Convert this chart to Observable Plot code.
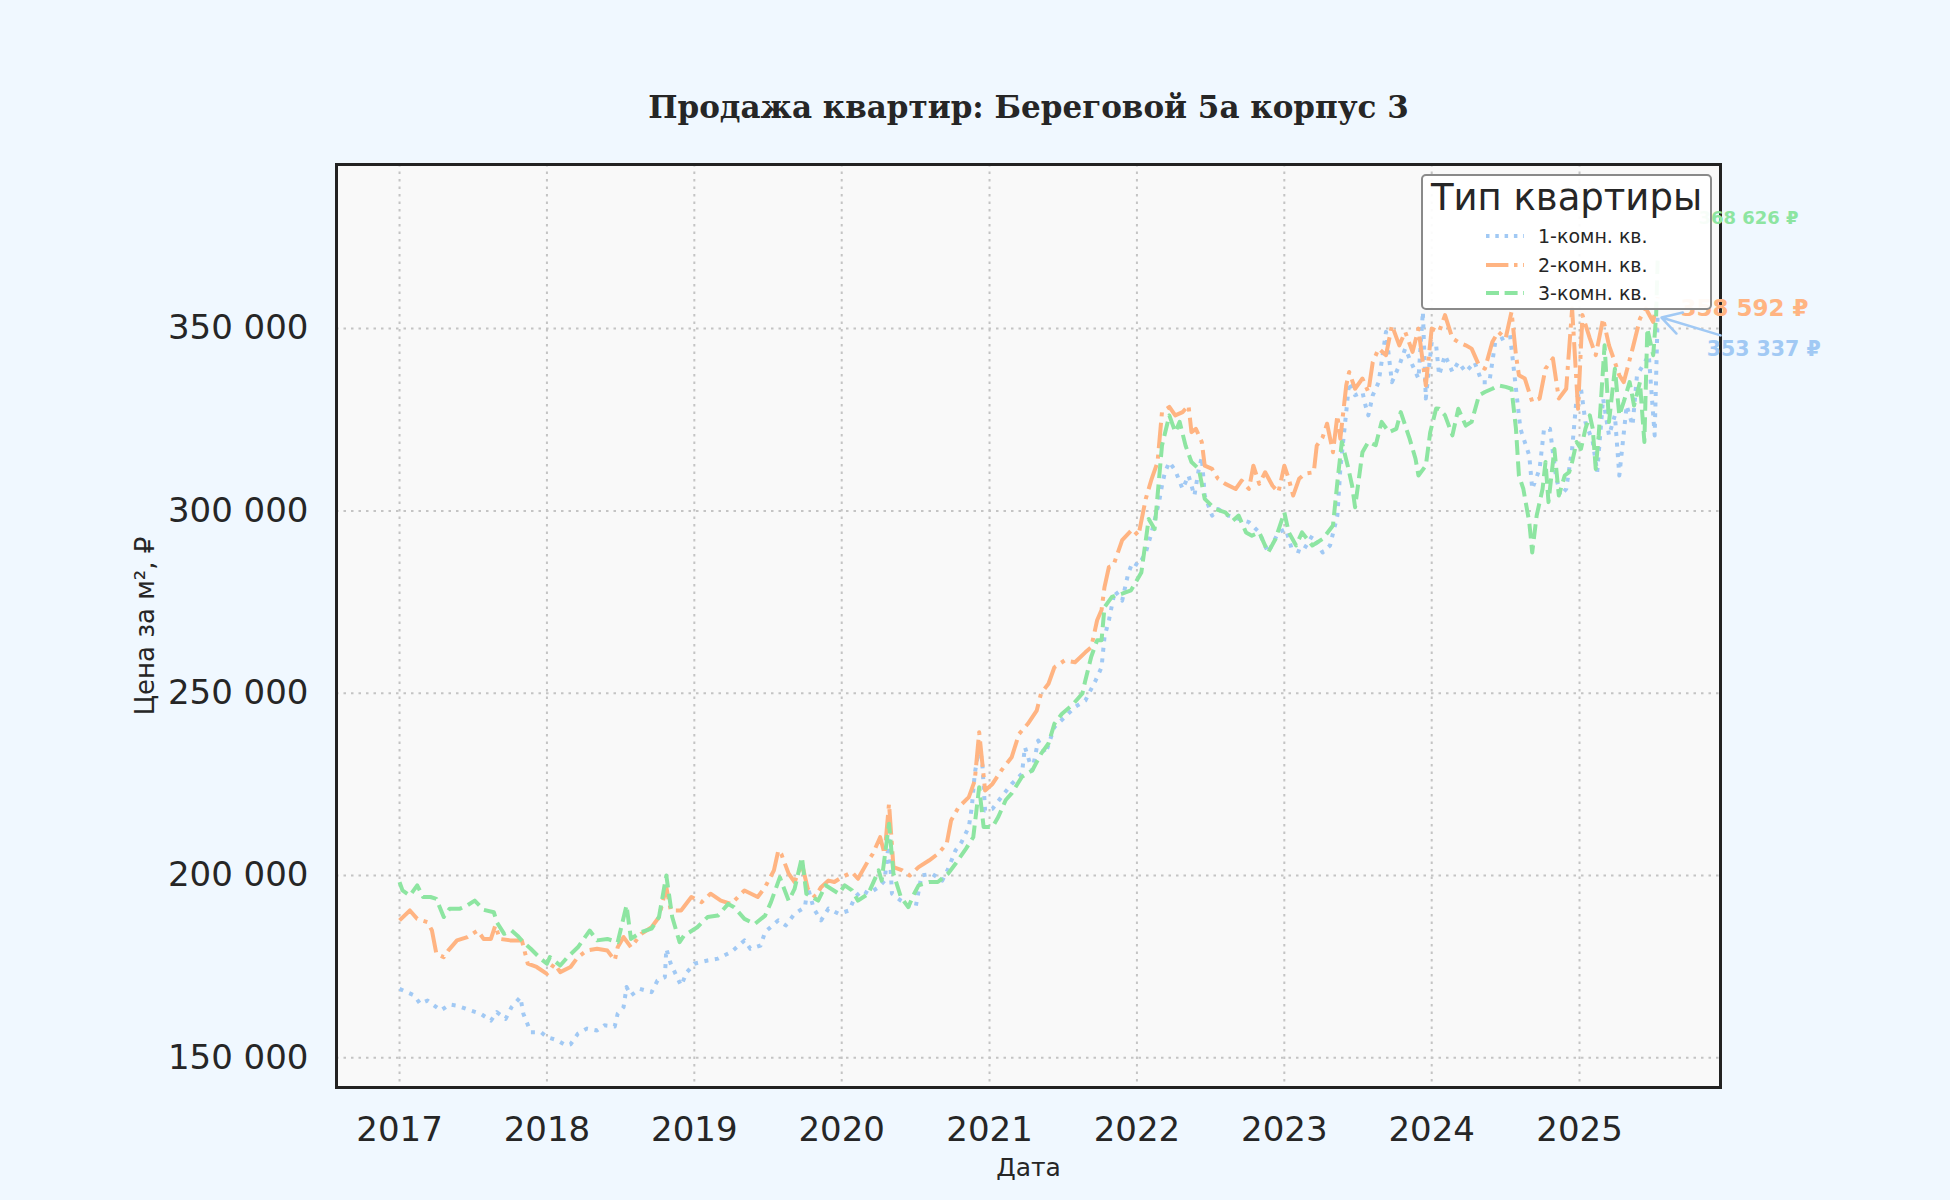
<!DOCTYPE html>
<html><head><meta charset="utf-8">
<script src="https://cdn.jsdelivr.net/npm/d3@7"></script>
<script src="https://cdn.jsdelivr.net/npm/@observablehq/plot@0.6"></script>
<style>
html,body{margin:0;padding:0;background:#f0f8ff;}
#wrap{position:relative;width:1950px;height:1200px;}
#legend{position:absolute;left:1421px;top:174px;width:287px;height:132px;background:rgba(255,255,255,0.93);border:2px solid #8a8a8a;border-radius:5px;font-family:"DejaVu Sans";color:#262626;}
#legend .ttl{position:absolute;left:0;width:100%;text-align:center;font-size:37px;line-height:37px;top:3px;white-space:nowrap;}
#legend .item{position:absolute;left:0;width:100%;height:19px;}
#legend .item svg{position:absolute;left:63px;top:5px;}
#legend .item span{position:absolute;left:115px;top:0;font-size:19px;line-height:19px;white-space:nowrap;}
</style>
</head><body><div id="wrap"></div>
<script>
const title = "Продажа квартир: Береговой 5а корпус 3";
const xLabel = "Дата";
const yLabel = "Цена за м², ₽";
const legendTitle = "Тип квартиры";
const seriesNames = ["1-комн. кв.", "2-комн. кв.", "3-комн. кв."];
const xTickYears = [2017, 2018, 2019, 2020, 2021, 2022, 2023, 2024, 2025];
const yTicks = [150000, 200000, 250000, 300000, 350000];
const yDomain = [141850, 395000];

const oneRoom = [[2017.00,168900],[2017.10,167100],[2017.14,164800],[2017.19,165700],[2017.28,163000],[2017.34,164600],[2017.39,164300],[2017.48,163000],[2017.55,162100],[2017.62,160200],[2017.66,162500],[2017.72,160700],[2017.76,163900],[2017.82,166600],[2017.84,162100],[2017.89,157000],[2017.96,157000],[2018.00,155700],[2018.07,154800],[2018.13,153400],[2018.16,153700],[2018.21,156600],[2018.27,158000],[2018.34,157500],[2018.39,158900],[2018.46,158600],[2018.48,162100],[2018.52,163900],[2018.54,169400],[2018.57,167100],[2018.63,168900],[2018.71,168000],[2018.75,171200],[2018.80,172100],[2018.81,179900],[2018.84,175800],[2018.91,169800],[2018.95,173500],[2019.00,175800],[2019.09,176700],[2019.16,177200],[2019.25,179000],[2019.34,182200],[2019.38,179900],[2019.45,180800],[2019.48,184500],[2019.57,187700],[2019.62,186300],[2019.68,189500],[2019.75,191300],[2019.77,196800],[2019.81,190900],[2019.86,187700],[2019.91,190900],[2019.98,189500],[2020.05,190400],[2020.09,194100],[2020.14,195900],[2020.18,195000],[2020.25,196800],[2020.29,198600],[2020.32,209600],[2020.34,195000],[2020.40,193100],[2020.45,191800],[2020.50,191300],[2020.54,200000],[2020.61,200500],[2020.68,198600],[2020.72,201800],[2020.77,206900],[2020.81,209100],[2020.86,213300],[2020.88,218700],[2020.90,227900],[2020.93,235200],[2020.95,231500],[2020.97,217800],[2021.02,218300],[2021.08,221500],[2021.15,225100],[2021.22,227900],[2021.24,235200],[2021.29,228800],[2021.33,237000],[2021.38,233400],[2021.44,240700],[2021.51,243400],[2021.58,246200],[2021.65,248000],[2021.72,253500],[2021.76,257100],[2021.78,265400],[2021.81,270000],[2021.85,278100],[2021.90,275400],[2021.94,282700],[2021.97,285900],[2022.01,285000],[2022.06,288600],[2022.10,294100],[2022.15,302400],[2022.17,307000],[2022.19,310600],[2022.22,313400],[2022.26,311100],[2022.31,306000],[2022.35,309700],[2022.39,304200],[2022.42,311500],[2022.44,314700],[2022.46,304200],[2022.51,298700],[2022.55,300500],[2022.62,298700],[2022.69,297800],[2022.76,296900],[2022.83,294100],[2022.89,288600],[2022.96,294100],[2023.01,295000],[2023.05,289600],[2023.12,288600],[2023.19,293200],[2023.26,288600],[2023.31,290500],[2023.36,298700],[2023.38,311500],[2023.42,327100],[2023.44,335300],[2023.48,331700],[2023.53,332600],[2023.55,329000],[2023.57,326200],[2023.60,331700],[2023.64,335300],[2023.69,349100],[2023.73,335300],[2023.78,339900],[2023.82,344500],[2023.87,339900],[2023.91,336300],[2023.94,354600],[2023.96,330800],[2024.00,346300],[2024.03,345400],[2024.05,337200],[2024.09,342700],[2024.14,338100],[2024.18,340800],[2024.23,338100],[2024.29,340800],[2024.34,335300],[2024.39,335300],[2024.43,346300],[2024.48,347300],[2024.53,348200],[2024.57,333500],[2024.60,322500],[2024.66,315200],[2024.68,306000],[2024.73,311500],[2024.76,322500],[2024.80,322500],[2024.84,309700],[2024.87,304200],[2024.91,306000],[2024.95,317000],[2024.98,330800],[2025.01,333500],[2025.04,324400],[2025.09,318900],[2025.12,310600],[2025.16,330800],[2025.20,320700],[2025.24,326200],[2025.27,309700],[2025.32,328900],[2025.36,323400],[2025.39,337200],[2025.43,339900],[2025.47,342700],[2025.51,320700],[2025.53,353337]];

const twoRoom = [[2017.00,187700],[2017.07,190400],[2017.12,188100],[2017.19,187200],[2017.22,184900],[2017.25,178500],[2017.30,177600],[2017.33,179400],[2017.39,182200],[2017.46,183100],[2017.53,184900],[2017.57,182600],[2017.62,182600],[2017.65,186300],[2017.68,182600],[2017.75,182200],[2017.83,182200],[2017.87,175800],[2017.93,174900],[2018.00,173000],[2018.05,175800],[2018.09,173500],[2018.16,174900],[2018.21,177600],[2018.27,179400],[2018.34,179900],[2018.41,179400],[2018.46,176700],[2018.48,180300],[2018.52,183100],[2018.57,180300],[2018.64,184000],[2018.71,185800],[2018.76,188600],[2018.81,196800],[2018.84,190400],[2018.91,190400],[2018.98,194100],[2019.05,192700],[2019.11,195000],[2019.18,193100],[2019.25,192200],[2019.34,195900],[2019.43,194100],[2019.48,196800],[2019.54,201400],[2019.57,206900],[2019.59,205900],[2019.64,200500],[2019.68,198200],[2019.73,203200],[2019.77,196300],[2019.82,194100],[2019.86,196800],[2019.91,198600],[2019.95,198200],[2020.00,199500],[2020.07,200900],[2020.11,199100],[2020.18,204100],[2020.21,205900],[2020.26,210500],[2020.29,205900],[2020.32,219700],[2020.35,202300],[2020.41,201400],[2020.46,200000],[2020.52,202300],[2020.59,204100],[2020.65,205900],[2020.71,208700],[2020.74,215100],[2020.79,218700],[2020.86,221500],[2020.90,226000],[2020.93,239300],[2020.97,223300],[2021.02,225100],[2021.08,228800],[2021.15,232400],[2021.20,238800],[2021.26,241600],[2021.32,245200],[2021.35,250000],[2021.40,252600],[2021.44,257100],[2021.51,259000],[2021.58,258500],[2021.65,261200],[2021.69,262600],[2021.73,270000],[2021.76,272800],[2021.78,279100],[2021.81,284600],[2021.84,285000],[2021.90,292000],[2021.97,295000],[2022.01,293200],[2022.06,303300],[2022.10,308800],[2022.14,313400],[2022.17,327100],[2022.22,328500],[2022.26,326200],[2022.31,327100],[2022.35,328900],[2022.37,321600],[2022.40,322500],[2022.44,318900],[2022.46,312400],[2022.51,311500],[2022.55,308800],[2022.60,307400],[2022.67,306000],[2022.71,308300],[2022.76,306000],[2022.79,312400],[2022.83,307400],[2022.87,310600],[2022.92,306900],[2022.96,305100],[2023.00,312400],[2023.03,308800],[2023.06,304200],[2023.10,308800],[2023.14,310200],[2023.20,310600],[2023.22,317900],[2023.26,320200],[2023.29,323900],[2023.33,316100],[2023.36,326200],[2023.38,319800],[2023.42,334400],[2023.44,338100],[2023.48,333500],[2023.53,336300],[2023.57,332600],[2023.60,340800],[2023.64,344500],[2023.69,342700],[2023.73,350900],[2023.78,345400],[2023.82,349100],[2023.87,343600],[2023.91,350000],[2023.96,334400],[2024.00,350000],[2024.05,349100],[2024.09,353700],[2024.14,347300],[2024.18,346300],[2024.23,345400],[2024.27,344500],[2024.32,339900],[2024.36,339000],[2024.41,346300],[2024.45,349100],[2024.50,347300],[2024.54,354600],[2024.57,342700],[2024.59,337200],[2024.63,336300],[2024.68,329900],[2024.73,330800],[2024.77,339000],[2024.82,341800],[2024.86,330800],[2024.91,333500],[2024.95,355500],[2024.99,328000],[2025.02,353700],[2025.07,347300],[2025.11,342700],[2025.16,352700],[2025.20,345400],[2025.24,340800],[2025.27,337200],[2025.30,335300],[2025.36,344500],[2025.41,352700],[2025.45,355500],[2025.50,351800],[2025.53,358592]];

const threeRoom = [[2017.00,198200],[2017.02,195900],[2017.07,194500],[2017.12,197300],[2017.16,194100],[2017.21,194100],[2017.25,193600],[2017.30,188600],[2017.34,190900],[2017.41,190900],[2017.46,191800],[2017.51,193100],[2017.57,190600],[2017.64,189900],[2017.66,187200],[2017.71,184000],[2017.76,184900],[2017.80,183500],[2017.84,181700],[2017.89,179900],[2017.96,177100],[2018.00,175800],[2018.02,177600],[2018.09,175300],[2018.14,177600],[2018.21,180300],[2018.29,184900],[2018.34,182200],[2018.41,182600],[2018.48,181700],[2018.54,191800],[2018.57,182600],[2018.64,184500],[2018.71,185400],[2018.76,188600],[2018.81,200000],[2018.85,188600],[2018.90,181700],[2018.93,183500],[2019.02,185800],[2019.09,188600],[2019.16,189000],[2019.23,192200],[2019.27,191300],[2019.34,188100],[2019.41,186700],[2019.48,189000],[2019.52,192700],[2019.58,199500],[2019.64,193100],[2019.68,196300],[2019.73,205000],[2019.76,195000],[2019.80,194100],[2019.84,193100],[2019.89,197300],[2019.93,196300],[2019.98,195000],[2020.02,197300],[2020.07,195900],[2020.11,193100],[2020.18,195000],[2020.25,201400],[2020.27,198600],[2020.32,214200],[2020.35,200500],[2020.40,194100],[2020.45,191300],[2020.49,195000],[2020.52,197300],[2020.59,198200],[2020.65,198200],[2020.72,200500],[2020.77,203200],[2020.84,207300],[2020.89,210500],[2020.93,224200],[2020.96,213300],[2021.02,213300],[2021.06,216100],[2021.11,220700],[2021.15,222500],[2021.22,227100],[2021.29,228800],[2021.35,233400],[2021.40,236200],[2021.44,241600],[2021.49,244300],[2021.56,246700],[2021.63,249900],[2021.65,253500],[2021.69,260000],[2021.73,264500],[2021.76,264500],[2021.78,273600],[2021.83,276400],[2021.90,277300],[2021.96,278200],[2022.03,283100],[2022.08,297800],[2022.12,295000],[2022.17,317900],[2022.22,326200],[2022.26,321600],[2022.29,324400],[2022.33,317900],[2022.37,313400],[2022.42,311500],[2022.46,303300],[2022.53,300500],[2022.60,299600],[2022.65,297300],[2022.69,298700],[2022.74,294100],[2022.78,293200],[2022.83,294100],[2022.89,288600],[2022.94,292300],[2023.00,299600],[2023.03,294100],[2023.08,290500],[2023.12,294100],[2023.19,290500],[2023.26,292300],[2023.33,296000],[2023.36,307900],[2023.39,318900],[2023.43,312400],[2023.46,306900],[2023.48,301000],[2023.53,316100],[2023.57,318900],[2023.62,318000],[2023.66,324400],[2023.71,321600],[2023.76,322500],[2023.79,327100],[2023.85,319800],[2023.89,314300],[2023.91,309700],[2023.96,312400],[2023.99,321600],[2024.03,328100],[2024.05,328000],[2024.09,326200],[2024.14,320700],[2024.18,328000],[2024.23,323400],[2024.27,324400],[2024.32,331700],[2024.36,332600],[2024.41,333500],[2024.45,334400],[2024.50,334000],[2024.54,333500],[2024.57,322500],[2024.59,309700],[2024.62,306000],[2024.66,296900],[2024.68,288600],[2024.71,298700],[2024.75,306000],[2024.77,313400],[2024.79,302400],[2024.83,317000],[2024.86,304200],[2024.90,309700],[2024.93,310600],[2024.95,313400],[2024.98,318900],[2025.01,317000],[2025.04,322500],[2025.07,326200],[2025.09,322500],[2025.11,311500],[2025.13,320700],[2025.17,345400],[2025.20,324400],[2025.24,339000],[2025.27,326200],[2025.30,329900],[2025.34,335300],[2025.37,328900],[2025.41,335300],[2025.44,318900],[2025.46,350000],[2025.50,342700],[2025.52,353700],[2025.53,368626]];

const seriesData = [oneRoom, twoRoom, threeRoom];

// styles (kept separate from data)
const colors = ["#a1c9f4", "#ffb482", "#8de5a1"];
const dashes = ["4,6.6", "25.6,6.4,4,6.4", "14.8,6.4"];
const legendDashes = ["3.5,5.8", "22.4,5.6,3.5,5.6", "13,5.6"];
const lineWidth = 4;
// end-label layout: pixel offsets from the last point, font sizes, anchors
const endLabelLayout = [
  {dx: 49, dy: 33, size: 20.5, anchor: "start", arrow: {dx: 63, dy: 19}},
  {dx: 151, dy: 11, size: 23, anchor: "end", arrow: null},
  {dx: 141, dy: -42, size: 18, anchor: "end", arrow: null}
];

const W = 1950, H = 1200, mT = 164, mR = 230, mB = 113, mL = 336;

const toDate = t => { const y = Math.floor(t); const a = Date.UTC(y,0,1), b = Date.UTC(y+1,0,1); return new Date(a + (t - y) * (b - a)); };
const fmtLocale = d3.formatLocale({thousands: "\u00a0", grouping: [3], decimal: ",", currency: ["", " ₽"]});
const fmtNum = fmtLocale.format(",d");

const tAll = seriesData.flat().map(d => d[0]);
const [tMin, tMax] = d3.extent(tAll);
const tPad = 0.05 * (tMax - tMin);
const xDomainYears = [tMin - tPad, tMax + tPad];
const xDomain = xDomainYears.map(toDate);
const xTicks = xTickYears.map(y => toDate(y));

const pxPerYear = (W - mL - mR) / (xDomainYears[1] - xDomainYears[0]);
const pxPerRub = (H - mT - mB) / (yDomain[1] - yDomain[0]);

const lineMarks = seriesData.map((arr, i) => Plot.line(arr.map(([t, v]) => ({date: toDate(t), value: v})), {
  x: "date", y: "value", stroke: colors[i], strokeWidth: lineWidth, strokeDasharray: dashes[i], strokeLinecap: "butt", strokeLinejoin: "round"
}));

const ends = seriesData.map((arr, i) => ({i, t: arr[arr.length-1][0], v: arr[arr.length-1][1]}));

const labelMarks = ends.map(e => {
  const L = endLabelLayout[e.i];
  return Plot.text([e], {
    x: d => toDate(d.t), y: "v", text: d => fmtNum(d.v) + " ₽",
    dx: L.dx, dy: L.dy, textAnchor: L.anchor, lineAnchor: "middle",
    fill: colors[e.i], fontSize: L.size, fontWeight: "bold", fontFamily: "DejaVu Sans"
  });
});

const arrowMarks = ends.filter(e => endLabelLayout[e.i].arrow).map(e => {
  const A = endLabelLayout[e.i].arrow;
  return Plot.arrow([e], {
    x1: d => toDate(d.t + A.dx / pxPerYear), y1: d => d.v - A.dy / pxPerRub,
    x2: d => toDate(d.t), y2: "v",
    stroke: colors[e.i], strokeWidth: 2.5, headLength: 14, insetEnd: 4
  });
});

const chart = Plot.plot({
  width: W, height: H,
  marginTop: mT, marginRight: mR, marginBottom: mB, marginLeft: mL,
  style: {background: "#f0f8ff", color: "#262626", fontFamily: "DejaVu Sans", overflow: "visible"},
  x: {type: "utc", domain: xDomain},
  y: {domain: yDomain},
  marks: [
    Plot.frame({fill: "#f9f9f9"}),
    Plot.gridX({ticks: xTicks, stroke: "#c4c4c4", strokeOpacity: 1, strokeWidth: 2, strokeDasharray: "2.5,5"}),
    Plot.gridY({ticks: yTicks, stroke: "#c4c4c4", strokeOpacity: 1, strokeWidth: 2, strokeDasharray: "2.5,5"}),
    ...lineMarks,
    Plot.frame({stroke: "#222", strokeWidth: 3}),
    Plot.axisX({ticks: xTicks, tickSize: 0, tickPadding: 29, fontSize: 34, tickFormat: d3.utcFormat("%Y"), label: null}),
    Plot.axisY({ticks: yTicks, tickSize: 0, tickPadding: 28, fontSize: 34, tickFormat: fmtNum, label: null}),
    Plot.text([title], {text: d => d, frameAnchor: "top", lineAnchor: "middle", dy: -56, fontSize: 31, fontWeight: "bold", fontFamily: "DejaVu Serif", fill: "#262626"}),
    Plot.text([xLabel], {text: d => d, frameAnchor: "bottom", lineAnchor: "middle", dy: 80, fontSize: 25, fill: "#262626"}),
    Plot.text([yLabel], {text: d => d, frameAnchor: "left", lineAnchor: "middle", dx: -191, rotate: -90, textAnchor: "middle", fontSize: 26, fill: "#262626"}),
    ...labelMarks,
    ...arrowMarks
  ]
});

const wrap = document.getElementById("wrap");
wrap.appendChild(chart);

// legend (drawn over the plot, like the original)
const lg = document.createElement("div");
lg.id = "legend";
const tt = document.createElement("div");
tt.className = "ttl"; tt.textContent = legendTitle;
lg.appendChild(tt);
const itemTops = [51, 80, 108];
seriesNames.forEach((name, i) => {
  const it = document.createElement("div");
  it.className = "item"; it.style.top = itemTops[i] + "px";
  it.innerHTML = `<svg width="38" height="8"><line x1="0" x2="38" y1="4" y2="4" stroke="${colors[i]}" stroke-width="${lineWidth}" stroke-dasharray="${legendDashes[i]}"/></svg><span>${name}</span>`;
  lg.appendChild(it);
});
wrap.appendChild(lg);
</script>
</body></html>
